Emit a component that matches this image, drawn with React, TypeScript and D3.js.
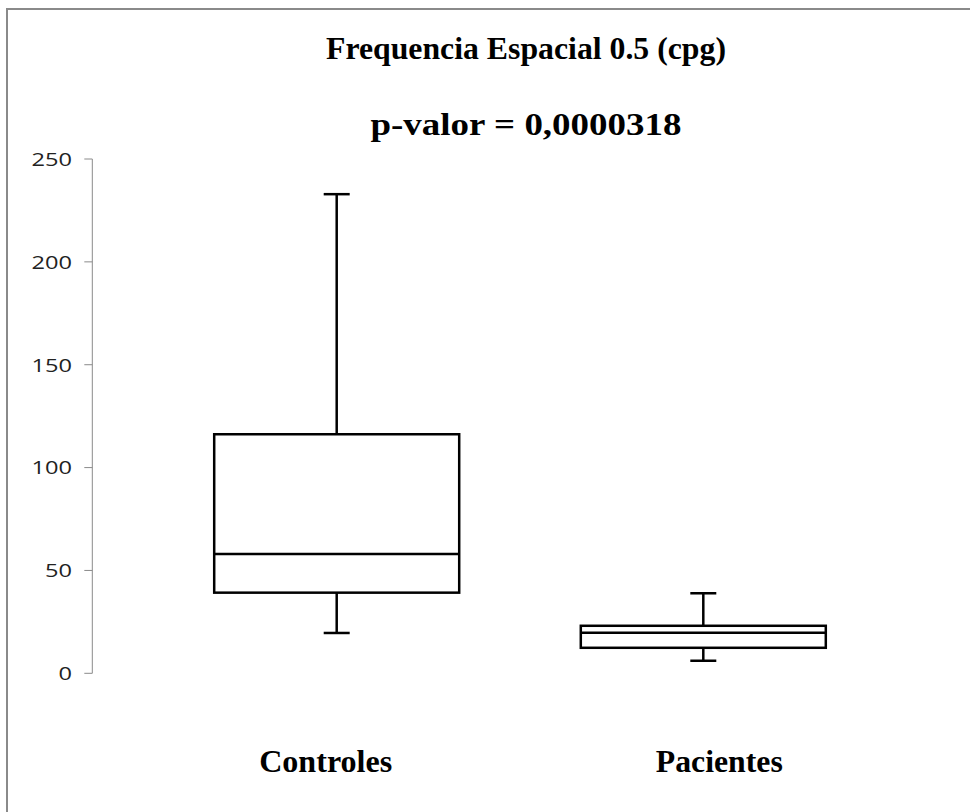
import React from "react";
import * as d3 from "d3";

const categories = ["Controles", "Pacientes"];
const whiskerMin = [19.6, 6.1];
const q1 = [39.2, 12.4];
const median = [58.0, 19.7];
const q3 = [116.2, 23.1];
const whiskerMax = [232.9, 38.9];
const yTicks = [0, 50, 100, 150, 200, 250];
const titleLines = ["Frequencia Espacial 0.5 (cpg)", "p-valor = 0,0000318"];

const W = 970;
const H = 812;

export default function App() {
  const y = d3.scaleLinear().domain([0, 250]).range([673.3, 159]);
  const x = d3.scalePoint<string>().domain(categories).range([336.7, 703.3]);
  const boxW = 245;
  const capW = 26;
  const axisX = 92.3;
  const labelOffsets = [-11, 16];
  const labelLengths = [133, 127];
  const serif = "Liberation Serif";
  return (
    <svg width={W} height={H} style={{ position: "absolute", left: 0, top: 0, background: "#fff" }}>
      <rect x={0} y={0} width={W} height={H} fill="#fff" />
      <line x1={7} y1={9} x2={W} y2={9} stroke="#8a8a8a" strokeWidth={2} />
      <line x1={7} y1={8} x2={7} y2={H} stroke="#8a8a8a" strokeWidth={2} />
      <text x={526} y={59} textAnchor="middle" fontFamily={serif} fontWeight="bold" fontSize={31} textLength={400} lengthAdjust="spacingAndGlyphs">
        {titleLines[0]}
      </text>
      <text x={526} y={135} textAnchor="middle" fontFamily={serif} fontWeight="bold" fontSize={31} textLength={311} lengthAdjust="spacingAndGlyphs">
        {titleLines[1]}
      </text>
      <line x1={axisX} y1={y(250)} x2={axisX} y2={y(0)} stroke="#8a8a8a" strokeWidth={1} />
      {yTicks.map((t) => (
        <g key={t}>
          <line x1={axisX - 8} x2={axisX} y1={y(t)} y2={y(t)} stroke="#8a8a8a" strokeWidth={1} />
          <text x={72} y={y(t)} dy="0.36em" textAnchor="end" fontFamily="Open Sans" fontSize={19} fill="#222"
            textLength={String(t).length * 13.5} lengthAdjust="spacingAndGlyphs">
            {t}
          </text>
        </g>
      ))}
      {categories.map((c, i) => {
        const cx = x(c)!;
        return (
          <g key={c} stroke="#000" strokeWidth={2.5} fill="none">
            <line x1={cx} x2={cx} y1={y(whiskerMax[i])} y2={y(q3[i])} />
            <line x1={cx} x2={cx} y1={y(q1[i])} y2={y(whiskerMin[i])} />
            <line x1={cx - capW / 2} x2={cx + capW / 2} y1={y(whiskerMax[i])} y2={y(whiskerMax[i])} />
            <line x1={cx - capW / 2} x2={cx + capW / 2} y1={y(whiskerMin[i])} y2={y(whiskerMin[i])} />
            <rect x={cx - boxW / 2} y={y(q3[i])} width={boxW} height={y(q1[i]) - y(q3[i])} fill="#fff" />
            <line x1={cx - boxW / 2} x2={cx + boxW / 2} y1={y(median[i])} y2={y(median[i])} />
          </g>
        );
      })}
      {categories.map((c, i) => (
        <text key={c} x={x(c)! + labelOffsets[i]} y={772} textAnchor="middle" fontFamily={serif} fontWeight="bold" fontSize={31}
          textLength={labelLengths[i]} lengthAdjust="spacingAndGlyphs">
          {c}
        </text>
      ))}
    </svg>
  );
}
